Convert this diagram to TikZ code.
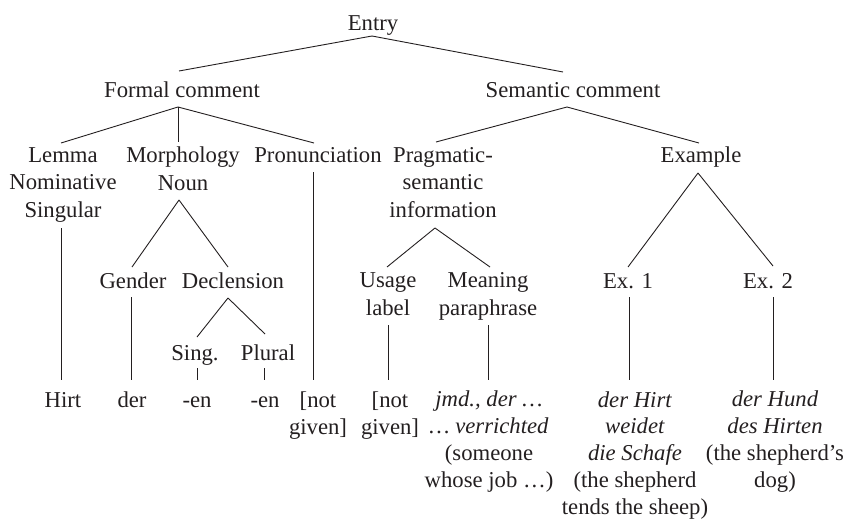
\documentclass[tikz,border=0pt]{standalone}
\usepackage{fontspec}
\setmainfont{Liberation Serif}
\usetikzlibrary{calc}
\definecolor{ink}{HTML}{231F20}
\tikzset{
  lab/.style={font=\fontsize{22.7}{27.4}\selectfont, inner sep=0pt, anchor=base, align=center, text=ink},
  leaf/.style={lab, font=\fontsize{22.7}{26.7}\selectfont},
  br/.style={draw=ink, line width=0.9pt}
}
\begin{document}
\begin{tikzpicture}[x=1pt,y=-1pt]
\useasboundingbox (0,0) rectangle (845,519);
% (node positions are the baseline of each node's last line)
\node[lab] (entry) at (373,31) {Entry};
\node[lab] (formal) at (182,97) {Formal comment};
\node[lab] (semantic) at (573,97) {Semantic comment};
\node[lab] (lemma) at (63,217) {Lemma\\Nominative\\Singular};
\node[lab] (morph) at (183,190) {Morphology\\Noun};
\node[lab] (pron) at (318,162) {Pronunciation};
\node[lab] (prag) at (443,217) {Pragmatic-\\semantic\\information};
\node[lab] (example) at (701,162) {Example};
\node[lab] (gender) at (133,288) {Gender};
\node[lab] (decl) at (233,288) {Declension};
\node[lab] (usage) at (388,315) {Usage\\label};
\node[lab] (meaning) at (488,315) {Meaning\\paraphrase};
\node[lab] (ex1) at (628,288) {Ex. 1};
\node[lab] (ex2) at (768,288) {Ex. 2};
\node[lab] (sing) at (195,360) {Sing.};
\node[lab] (plural) at (268,360) {Plural};
\node[leaf] (hirt) at (63,407) {Hirt};
\node[leaf] (der) at (132,407) {der};
\node[leaf] (en1) at (197,407) {-en};
\node[leaf] (en2) at (265,407) {-en};
\node[leaf] (ng1) at (318,434) {[not\\given]};
\node[leaf] (ng2) at (390,434) {[not\\given]};
\node[leaf] (jmd) at (489,487) {\textit{jmd., der …}\\\textit{… verrichted}\\(someone\\whose job …)};
\node[leaf] (ex1leaf) at (635,514) {\textit{der Hirt}\\\textit{weidet}\\\textit{die Schafe}\\(the shepherd\\tends the sheep)};
\node[leaf] (ex2leaf) at (775,487) {\textit{der Hund}\\\textit{des Hirten}\\(the shepherd’s\\dog)};
% connectors
\draw[br] ($(entry.base)+(-1,5)$) -- ($(formal.base)+(-3,-26)$);
\draw[br] ($(entry.base)+(-1,5)$) -- ($(semantic.base)+(-10,-25)$);
\draw[br] ($(formal.base)+(-4,10)$) -- ($(lemma.base)+(-2,-74)$);
\draw[br] ($(formal.base)+(-4,10)$) -- ($(morph.base)+(-5,-48)$);
\draw[br] ($(formal.base)+(-4,10)$) -- ($(pron.base)+(-4,-19)$);
\draw[br] ($(semantic.base)+(-6,10)$) -- ($(prag.base)+(-7,-75)$);
\draw[br] ($(semantic.base)+(-6,10)$) -- ($(example.base)+(-2,-19)$);
\draw[br] ($(lemma.base)+(-2,11)$) -- ($(hirt.base)+(-2,-27)$);
\draw[br] ($(morph.base)+(-4,10)$) -- ($(gender.base)+(-1,-21)$);
\draw[br] ($(morph.base)+(-4,10)$) -- ($(decl.base)+(-5,-21)$);
\draw[br] ($(pron.base)+(-5,10)$) -- ($(ng1.base)+(-5,-54)$);
\draw[br] ($(prag.base)+(-8,11)$) -- ($(usage.base)+(-1,-48)$);
\draw[br] ($(prag.base)+(-8,11)$) -- ($(meaning.base)+(2,-48)$);
\draw[br] ($(example.base)+(-3,11)$) -- ($(ex1.base)+(0,-21)$);
\draw[br] ($(example.base)+(-3,11)$) -- ($(ex2.base)+(5,-22)$);
\draw[br] ($(gender.base)+(-2,9)$) -- ($(der.base)+(-1,-27)$);
\draw[br] ($(decl.base)+(-5,10)$) -- ($(sing.base)+(2,-23)$);
\draw[br] ($(decl.base)+(-5,10)$) -- ($(plural.base)+(-3,-26)$);
\draw[br] ($(sing.base)+(2,8)$) -- ($(en1.base)+(0,-27)$);
\draw[br] ($(plural.base)+(-4,8)$) -- ($(en2.base)+(-1,-27)$);
\draw[br] ($(usage.base)+(0,10)$) -- ($(ng2.base)+(-2,-54)$);
\draw[br] ($(meaning.base)+(0,10)$) -- ($(jmd.base)+(-1,-107)$);
\draw[br] ($(ex1.base)+(1,9)$) -- ($(ex1leaf.base)+(-6,-134)$);
\draw[br] ($(ex2.base)+(5,9)$) -- ($(ex2leaf.base)+(-2,-107)$);
\end{tikzpicture}
\end{document}
